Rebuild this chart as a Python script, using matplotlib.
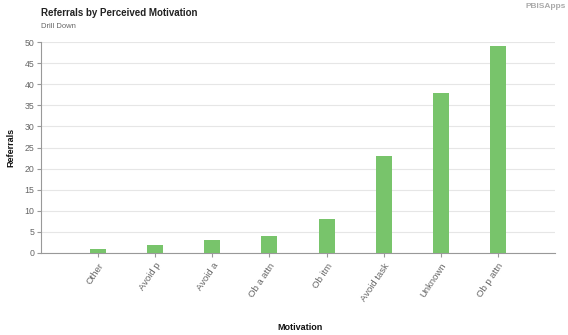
import matplotlib
matplotlib.use("Agg")
import matplotlib.pyplot as plt

categories = ["Other", "Avoid p", "Avoid a", "Ob a attn", "Ob itm", "Avoid task", "Unknown", "Ob p attn"]
values = [1, 2, 3, 4, 8, 23, 38, 49]
yticks = [0, 5, 10, 15, 20, 25, 30, 35, 40, 45, 50]

plt.rcParams['font.family'] = ['Liberation Sans', 'DejaVu Sans']

fig = plt.figure(figsize=(5.68, 3.35), dpi=100)
ax = fig.add_axes([0.0722, 0.2448, 0.9048, 0.6298])

x = list(range(1, len(categories) + 1))
ax.bar(x, values, width=0.28, color="#78c46b", zorder=3)
ax.set_xlim(0, len(categories) + 1)
ax.set_ylim(0, 50)
ax.set_yticks(yticks)
ax.set_xticks(x)
ax.set_xticklabels(categories, rotation=56, ha="right", rotation_mode="anchor",
                   fontsize=6.8, color="#666666")
ax.tick_params(axis='y', labelsize=6.3, labelcolor="#666666", length=3, color="#999999", pad=2)
ax.tick_params(axis='x', length=3, color="#999999", pad=3)
ax.grid(axis='y', color="#e6e6e6", linewidth=0.8, zorder=0)
for s in ["top", "right"]:
    ax.spines[s].set_visible(False)
ax.spines["left"].set_color("#999999")
ax.spines["bottom"].set_color("#999999")
ax.spines["left"].set_linewidth(0.8)
ax.spines["bottom"].set_linewidth(0.8)

fig.text(41/568, 1-13/335, "Referrals by Perceived Motivation", fontsize=7,
         fontweight="bold", color="#222222", va="center", ha="left")
fig.text(41/568, 1-26/335, "Drill Down", fontsize=5.5, color="#666666", va="center", ha="left")
fig.text(11/568, 1-147/335, "Referrals", fontsize=6.5, fontweight="bold", rotation=90,
         va="center", ha="center", color="#111111")
fig.text(300/568, 1-327/335, "Motivation", fontsize=6.5, fontweight="bold",
         va="center", ha="center", color="#111111")
fig.text(566/568, 1-7/335, "PBISApps", fontsize=6, color="#aaaaaa", ha="right", va="center",
         fontweight="bold")

fig.savefig("out.png", dpi=100)
